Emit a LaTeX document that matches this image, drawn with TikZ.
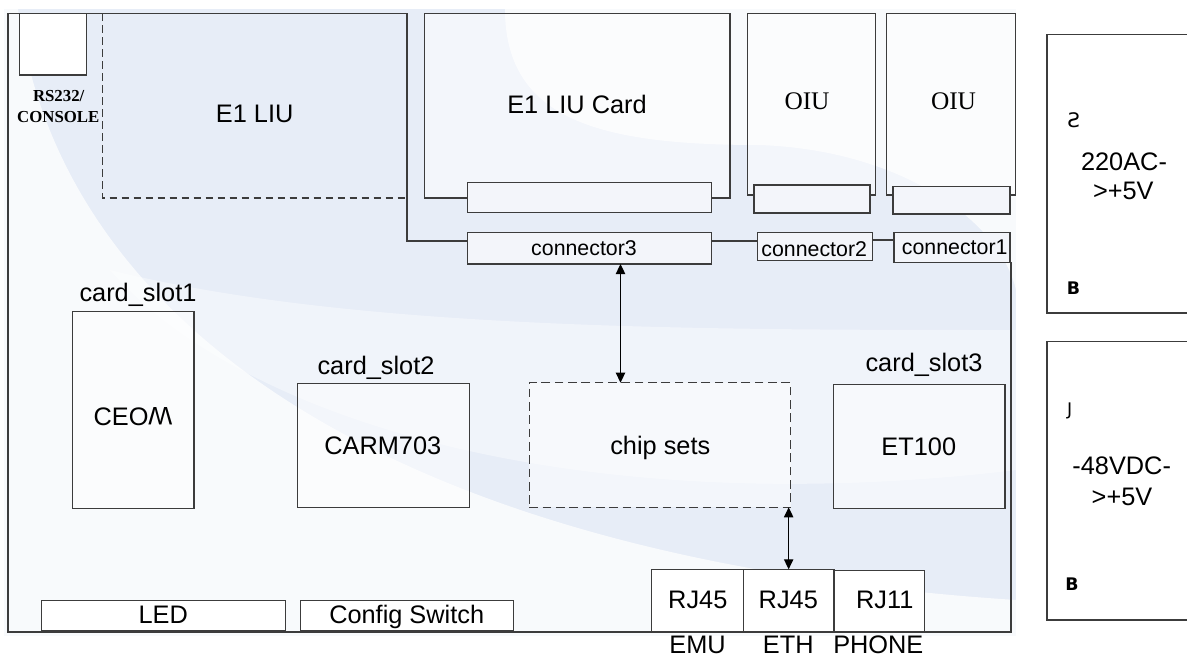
\documentclass[tikz,border=0pt]{standalone}
\usepackage{fontspec}
\setmainfont{Liberation Sans}
\newfontfamily\serifface{Liberation Serif}
\newfontfamily\djv{DejaVu Sans}
\usetikzlibrary{arrows.meta,calc}
\definecolor{bgblue}{HTML}{E7EDF7}
\definecolor{edgec}{HTML}{3C3C3C}
\definecolor{innerc}{HTML}{F3F5FA}
\newcommand\mkbox[6]{%
  \pgfmathsetmacro\bxw{(#4-#2)*0.75}%
  \pgfmathsetmacro\bxh{(#5-#3)*0.75}%
  \node[#6, minimum width=\bxw pt, minimum height=\bxh pt] (#1) at ({(#2+#4)/2},{(#3+#5)/2}) {};}
\begin{document}
\begin{tikzpicture}[x=0.75pt,y=-0.75pt,
  boxst/.style={draw=edgec,line width=0.9pt,inner sep=0pt,outer sep=0pt,rectangle},
  whitebox/.style={boxst,fill=white},
  cardbox/.style={boxst,fill=white,fill opacity=0.5},
  innerbox/.style={boxst,fill=innerc},
  chipbox/.style={boxst,fill=white,fill opacity=0.5,dash pattern=on 6.5pt off 3.5pt},
  lbl/.style={inner sep=0pt,outer sep=0pt,anchor=base,font=\fontsize{19}{22}\selectfont,text=black},
  clbl/.style={lbl,font=\fontsize{16}{19}\selectfont},
  slbl/.style={lbl,font=\serifface\fontsize{19}{22}\selectfont},
  rslbl/.style={lbl,font=\serifface\bfseries\fontsize{12.6}{15}\selectfont},
  glyph/.style={inner sep=0pt,outer sep=0pt,font=\djv\fontsize{15}{16}\selectfont},
  wire/.style={draw=edgec,line width=0.9pt},
  dwire/.style={draw=edgec,line width=0.9pt,dash pattern=on 5.5pt off 3.5pt},
  biarrow/.style={draw=black,line width=0.9pt,{Triangle[length=7.5pt,width=7pt]}-{Triangle[length=7.5pt,width=7pt]}}
]
\useasboundingbox (0,0) rectangle (1187,657);
% background
\fill[white] (0,0) rectangle (1187,657);
\fill[bgblue] (4,9) rectangle (1016,636);
\fill[white,opacity=0.75] (4,9) -- (18,9) .. controls (60,330) and (400,560) .. (1016,600) -- (1016,636) -- (4,636) -- cycle;
\fill[white,opacity=0.75] (505,9) .. controls (505,120) and (600,145) .. (760,145) .. controls (900,150) and (1000,220) .. (1016,290) -- (1016,9) -- cycle;
\fill[white,opacity=0.4] (110,270) .. controls (250,430) and (600,520) .. (1016,470) -- (1016,330) .. controls (700,330) and (350,330) .. (110,270) -- cycle;

% named coordinates
\coordinate (ybus) at (0,241);
\coordinate (ybus2) at (0,240);
\coordinate (tl) at (8,13.3);
\coordinate (bl) at (8,632);
\coordinate (br) at (1011,632);
\coordinate (vtop) at (407,13.3);
\coordinate (vbot) at (407,241);
\coordinate (dtop) at (102.3,13.3);
\coordinate (dcorner) at (102.3,198);
\coordinate (dend) at (407,198);
\coordinate (axone) at (620.5,0);

% boxes
\mkbox{rs}{19.3}{13.3}{86.7}{75}{whitebox}
\mkbox{e1card}{424.7}{13.3}{730}{198}{cardbox}
\mkbox{e1in}{467.7}{182.7}{711.7}{212.7}{innerbox}
\mkbox{oiua}{747.3}{13.3}{875.7}{195}{cardbox}
\mkbox{oiuain}{754}{185}{870}{213}{innerbox}
\mkbox{oiub}{886.7}{13.3}{1015.7}{195}{cardbox}
\mkbox{oiubin}{893}{186.7}{1010}{214}{innerbox}
\mkbox{cthree}{467.7}{232.7}{711.7}{264}{innerbox}
\mkbox{ctwo}{757.3}{232.7}{872.7}{260.7}{innerbox}
\mkbox{cone}{894}{232.7}{1010}{262.3}{innerbox}
\mkbox{ceom}{72.3}{311.7}{194}{508.7}{cardbox}
\mkbox{carm}{297.3}{383.7}{469.3}{507.7}{cardbox}
\mkbox{chip}{529.3}{382.7}{790.7}{507.3}{chipbox}
\mkbox{et}{833.3}{384.3}{1005}{508.7}{cardbox}
\mkbox{led}{41.3}{600.7}{285.3}{631}{whitebox}
\mkbox{cfg}{300.3}{600.7}{513.3}{631}{whitebox}
\mkbox{rja}{651.7}{569.3}{743.3}{631.7}{whitebox}
\mkbox{rjb}{743.3}{569.3}{834}{631.7}{whitebox}
\mkbox{rjc}{834}{570.7}{924.3}{632.7}{whitebox}
\begin{scope}
\clip (0,0) rectangle (1187,657);
\mkbox{pwa}{1047}{34.3}{1200}{313}{whitebox}
\mkbox{pwb}{1047}{341.7}{1200}{620}{whitebox}
\end{scope}

% board outline and wires
\draw[wire] (cthree.west |- ybus) -- (vbot) -- (vtop) -- (tl) -- (bl) -- (br) -- (cone.south east -| br);
\draw[wire] (cthree.east |- ybus) -- (ctwo.west |- ybus);
\draw[wire] (ctwo.east |- ybus2) -- (cone.west |- ybus2);
\draw[dwire] (dtop) -- (dcorner) -- (dend);

% arrows
\draw[biarrow] (cthree.south -| axone) -- (chip.north -| axone);
\draw[biarrow] (chip.south -| rjb.north) -- (rjb.north);

% labels
\node[rslbl] (trs1) at (58.7,101.7) {RS232/};
\node[rslbl] (trs2) at (58.3,122) {CONSOLE};
\node[lbl] (te1) at (254.7,122.7) {E1 LIU};
\node[lbl] (te1c) at (577,113) {E1 LIU Card};
\node[slbl] (toa) at (807,109.3) {OIU};
\node[slbl] (tob) at (953.5,109.3) {OIU};
\node[clbl] (tc3) at (584,255.7) {connector3};
\node[clbl] (tc2) at (814.2,256.7) {connector2};
\node[clbl] (tc1) at (954.7,254) {connector1};
\node[lbl] (tcs1) at (138,301) {card\_slot1};
\node[lbl] (tcs2) at (376,374.3) {card\_slot2};
\node[lbl] (tcs3) at (924,371) {card\_slot3};
\node[lbl] (tceom) at (133,425) {CEO\raisebox{\depth}{\scalebox{1}[-1]{W}}};
\node[lbl] (tcarm) at (382.8,454) {CARM703};
\node[lbl] (tchip) at (660.3,454) {chip sets};
\node[lbl] (tet) at (918.8,455) {ET100};
\node[lbl] (tled) at (163.3,623.3) {LED};
\node[lbl] (tcfg) at (406.7,623.3) {Config Switch};
\node[lbl] (trja) at (697.8,608.7) {RJ45};
\node[lbl] (trjb) at (788.3,608.7) {RJ45};
\node[lbl] (trjc) at (884.7,608.7) {RJ11};
\node[lbl] (temu) at (697.5,653) {EMU};
\node[lbl] (teth) at (788.3,653) {ETH};
\node[lbl] (tphone) at (878.3,653) {PHONE};
\node[lbl] (tpa1) at (1124,170) {220AC-};
\node[lbl] (tpa2) at (1123.3,199) {>+5V};
\node[lbl] (tpb1) at (1121.7,474.5) {-48VDC-};
\node[lbl] (tpb2) at (1122,505) {>+5V};
\node[glyph] (gpa1) at (1073.7,120) {Ƨ};
\node[glyph,font=\djv\fontsize{13}{14}\selectfont] (gpb1) at (1069.7,411) {J};
\node[glyph,font=\djv\bfseries\fontsize{13}{14}\selectfont] (gpa2) at (1073.5,288) {B};
\node[glyph,font=\djv\bfseries\fontsize{13}{14}\selectfont] (gpb2) at (1072,584) {B};
\end{tikzpicture}
\end{document}
